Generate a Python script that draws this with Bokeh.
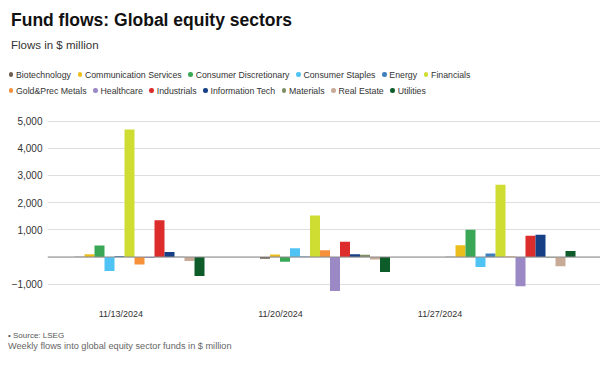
from bokeh.plotting import figure
from bokeh.models import Range1d, FixedTicker, Span, ColumnDataSource, Div
from bokeh.layouts import column
from bokeh.embed import file_html
from bokeh.resources import INLINE
from bokeh.transform import dodge

# ---------------- data ----------------
weeks = ["11/13/2024", "11/20/2024", "11/27/2024"]
sectors = ["Biotechnology", "Communication Services", "Consumer Discretionary",
           "Consumer Staples", "Energy", "Financials", "Gold&Prec Metals",
           "Healthcare", "Industrials", "Information Tech", "Materials",
           "Real Estate", "Utilities"]
colors = ["#6e5f52", "#ecbe1c", "#3aa757", "#4fc4f4", "#3f80bc", "#cfdc32",
          "#f4913a", "#9b89c6", "#dc2c2b", "#173f86", "#7f8f64", "#c8ab97", "#0d5c2a"]

biotechnology = [5, -60, 10]
communication_services = [100, 90, 430]
consumer_discretionary = [420, -170, 1005]
consumer_staples = [-515, 320, -370]
energy = [40, 20, 125]
financials = [4690, 1530, 2660]
gold_prec_metals = [-280, 245, 20]
healthcare = [-40, -1250, -1080]
industrials = [1350, 565, 785]
information_tech = [180, 100, 820]
materials = [5, 80, -20]
real_estate = [-150, -90, -340]
utilities = [-700, -550, 220]

y_ticks = [-1000, 0, 1000, 2000, 3000, 4000, 5000]
y_tick_labels = ["\u22121,000", "", "1,000", "2,000", "3,000", "4,000", "5,000"]

series = [biotechnology, communication_services, consumer_discretionary,
          consumer_staples, energy, financials, gold_prec_metals, healthcare,
          industrials, information_tech, materials, real_estate, utilities]

FONT = "Liberation Sans"
W = 600
LEFT = 47

# ---------------- header (title, subtitle, legend) ----------------
HH = 104

def legend_row(names, cols, top):
    parts = []
    for nm, c in zip(names, cols):
        parts.append(
            f'<span style="display:inline-block;width:4.5px;height:4.5px;border-radius:50%;'
            f'background:{c};margin-right:2.75px;flex:none"></span>'
            f'<span style="margin-right:6.7px;flex:none">{nm.replace("&", "&amp;")}</span>')
    return (f'<div style="position:absolute;left:8.75px;top:{top}px;height:12px;display:flex;'
            f'align-items:center;font-size:8.75px;line-height:12px;color:#333;white-space:nowrap">'
            + "".join(parts) + '</div>')

header_html = (
    f'<div style="position:relative;width:{W}px;height:{HH}px;font-family:\'{FONT}\';margin:0;padding:0">'
    '<div style="position:absolute;left:11px;top:12.4px;font-size:17.5px;line-height:17.5px;'
    'font-weight:bold;color:#111;white-space:nowrap">Fund flows: Global equity sectors</div>'
    '<div style="position:absolute;left:11px;top:39.8px;font-size:11.5px;line-height:11.5px;'
    'color:#333;white-space:nowrap">Flows in $ million</div>'
    + legend_row(sectors[:6], colors[:6], 68.7)
    + legend_row(sectors[6:], colors[6:], 84.7)
    + '</div>')
header = Div(text=header_html, width=W, height=HH, margin=0)

# ---------------- main chart ----------------
px_per_group = 185.5
bar_w = 10 / px_per_group
frame_w = W - LEFT
x0 = -92 / px_per_group
main = figure(width=W, height=226,
              x_range=Range1d(x0, x0 + frame_w / px_per_group),
              y_range=Range1d(-1527, 5318),
              min_border_left=LEFT, min_border_right=0, min_border_top=8, min_border_bottom=32,
              toolbar_location=None, output_backend="svg")
main.outline_line_color = None
main.xgrid.grid_line_color = None
main.ygrid.grid_line_color = "#dedede"
main.ygrid.grid_line_width = 1
main.ygrid.ticker = FixedTicker(ticks=y_ticks)

data = {"x": list(range(len(weeks)))}
for s, vals in zip(sectors, series):
    data[s] = vals
src = ColumnDataSource(data)

n = len(sectors)
for k, (s, c) in enumerate(zip(sectors, colors)):
    off = (k - (n - 1) / 2) * bar_w
    main.vbar(x=dodge("x", off, range=main.x_range), top=s, bottom=0, width=bar_w,
              source=src, fill_color=c, line_color=None)

main.add_layout(Span(location=0, dimension="width", line_color="#8c8c8c", line_width=1.2))

ya = main.yaxis[0]
ya.ticker = FixedTicker(ticks=y_ticks)
ya.major_label_overrides = dict(zip(y_ticks, y_tick_labels))
ya.axis_line_color = None
ya.major_tick_line_color = None
ya.minor_tick_line_color = None
ya.major_tick_out = 0
ya.major_tick_in = 0
ya.minor_tick_out = 0
ya.major_label_standoff = 5
ya.major_label_text_font = FONT
ya.major_label_text_font_size = "10px"
ya.major_label_text_color = "#333333"

x_label_pos = [-0.1, 0.76, 1.62]
xa = main.xaxis[0]
xa.ticker = FixedTicker(ticks=x_label_pos)
xa.major_label_overrides = dict(zip(x_label_pos, weeks))
xa.axis_line_color = None
xa.major_tick_line_color = None
xa.minor_tick_line_color = None
xa.major_tick_out = 0
xa.major_tick_in = 0
xa.minor_tick_out = 0
xa.major_label_standoff = 10
xa.major_label_text_font = FONT
xa.major_label_text_font_size = "9px"
xa.major_label_text_color = "#333333"

# ---------------- footer ----------------
FH = 34
footer_html = (
    f'<div style="position:relative;width:{W}px;height:{FH}px;font-family:\'{FONT}\';margin:0;padding:0">'
    '<div style="position:absolute;left:8px;top:0.7px;font-size:8px;line-height:10px;'
    'color:#555;white-space:nowrap">\u2022 Source: LSEG</div>'
    '<div style="position:absolute;left:8px;top:11.2px;font-size:9.2px;line-height:11px;'
    'color:#666;white-space:nowrap">Weekly flows into global equity sector funds in $ million</div>'
    '</div>')
footer = Div(text=footer_html, width=W, height=FH, margin=0)

layout = column(header, main, footer, spacing=0)
open("out.html", "w").write(file_html(layout, INLINE))
